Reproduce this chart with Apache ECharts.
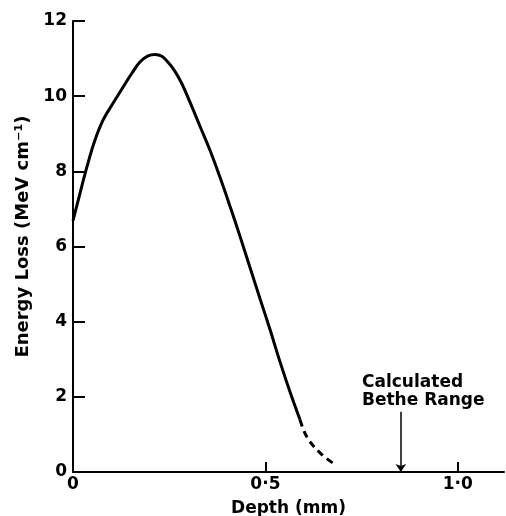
<!DOCTYPE html>
<html>
<head>
<meta charset="utf-8">
<script src="https://cdn.jsdelivr.net/npm/echarts@6/dist/echarts.min.js"></script>
<style>
  html, body { margin: 0; padding: 0; background: #fff; }
  #chart { width: 506px; height: 516px; }
</style>
</head>
<body>
<div id="chart"></div>
<script>
// depth (mm) vs energy loss (MeV cm-1)
var solidDepth = [0, 0.018, 0.036, 0.055, 0.078, 0.104, 0.130, 0.153, 0.174, 0.195, 0.213, 0.231, 0.247, 0.265, 0.283, 0.304, 0.330, 0.356, 0.382, 0.408, 0.434, 0.460, 0.486, 0.512, 0.538, 0.564, 0.590];
var solidLoss = [6.69, 7.41, 8.11, 8.77, 9.36, 9.81, 10.24, 10.61, 10.91, 11.07, 11.11, 11.06, 10.90, 10.66, 10.33, 9.84, 9.20, 8.56, 7.84, 7.07, 6.27, 5.44, 4.61, 3.79, 2.93, 2.13, 1.39];
var dashDepth = [0.590, 0.608, 0.642, 0.675];
var dashLoss = [1.39, 0.93, 0.51, 0.24];

var betheRange = 0.852;   // arrow position
var arrowTop = 1.6;
var betheText = 'Calculated\nBethe Range';

var xTicks = [0, 0.5, 1.0];
var xTickLabels = ['0', '0·5', '1·0'];
var yTicks = [0, 2, 4, 6, 8, 10, 12];

function pairs(xs, ys) {
    var arr = [];
    for (var i = 0; i < xs.length; i++) arr.push([xs[i], ys[i]]);
    return arr;
}

var font = 'DejaVu Sans';
var txt = { fontFamily: font, fontSize: 17, fontWeight: 'bold', color: '#000' };
var chart = echarts.init(document.getElementById('chart'));
var option = {
    animation: false,
    textStyle: { fontFamily: font, color: '#000' },
    grid: { left: 73, right: 2, top: 21, bottom: 44, containLabel: false, outerBoundsMode: 'none' },
    xAxis: {
        type: 'value', min: 0, max: 1.12, interval: 0.5,
        name: 'Depth (mm)', nameLocation: 'middle', nameGap: 28,
        nameTextStyle: txt,
        axisLine: { lineStyle: { color: '#000', width: 2 } },
        axisTick: { inside: true, length: 10, lineStyle: { color: '#000', width: 2 }, customValues: xTicks },
        axisLabel: Object.assign({
            customValues: xTicks, margin: 4,
            formatter: function (v) {
                var i = xTicks.indexOf(v);
                return i >= 0 ? xTickLabels[i] : '';
            }
        }, txt),
        splitLine: { show: false }
    },
    yAxis: {
        type: 'value', min: 0, max: 12, interval: 2,
        name: 'Energy Loss (MeV cm⁻¹)', nameLocation: 'middle', nameGap: 37, nameRotate: 90,
        nameTextStyle: Object.assign({}, txt, { fontSize: 18, padding: [0, 0, 0, 20] }),
        axisLine: { show: true, lineStyle: { color: '#000', width: 2 } },
        axisTick: { show: true, inside: true, length: 12, lineStyle: { color: '#000', width: 2 }, customValues: yTicks },
        axisLabel: Object.assign({ customValues: yTicks, margin: 6 }, txt),
        splitLine: { show: false }
    },
    series: [
        {
            type: 'line', data: pairs(solidDepth, solidLoss), smooth: 0.4,
            symbol: 'none', silent: true,
            lineStyle: { color: '#000', width: 3 }
        },
        {
            type: 'line', data: pairs(dashDepth, dashLoss), smooth: 0.4,
            symbol: 'none', silent: true,
            lineStyle: { color: '#000', width: 3, type: [7, 5] },
            markLine: {
                silent: true, symbol: ['none', 'arrow'], symbolSize: 8,
                label: { show: false },
                lineStyle: { color: '#000', width: 1.5, type: 'solid' },
                data: [[{ coord: [betheRange, arrowTop] }, { coord: [betheRange, 0] }]]
            },
            markPoint: {
                silent: true, symbol: 'circle', symbolSize: 0,
                label: Object.assign({
                    show: true, position: 'right', distance: 0,
                    formatter: betheText, lineHeight: 18
                }, txt),
                data: [{ coord: [0.751, 2.15] }]
            }
        }
    ]
};
chart.setOption(option);
</script>
</body>
</html>
